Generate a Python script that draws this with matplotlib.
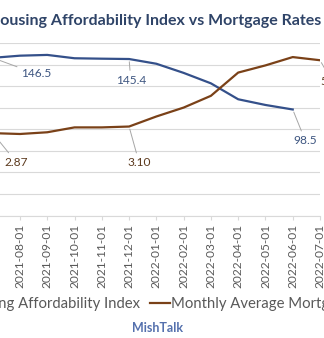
import matplotlib
matplotlib.use("Agg")
import matplotlib.pyplot as plt
import numpy as np

plt.rcParams['font.family'] = ['Lato', 'DejaVu Sans']

# monthly data (chart is a crop, first point sits just off the left edge)
months = ["2021-07-01", "2021-08-01", "2021-09-01", "2021-10-01", "2021-11-01",
          "2021-12-01", "2022-01-01", "2022-02-01", "2022-03-01", "2022-04-01",
          "2022-05-01", "2022-06-01", "2022-07-01"]
hai = [146.5, 148.5, 149.2, 146.1, 145.7, 145.4, 141.0, 132.5, 122.8, 108.0,
       102.7, 98.5, np.nan]
rates = [2.87, 2.84, 2.90, 3.07, 3.07, 3.10, 3.45, 3.76, 4.17, 4.98, 5.23,
         5.52, 5.41]
hai_labeled = [0, 5, 11]
rate_labeled = [0, 5, 12]

title = "Housing Affordability Index vs Mortgage Rates"
names = ["Housing Affordability Index", "Monthly Average Mortgage Rates"]

BLUE = '#34508a'
BROWN = '#7a4118'
GRID = '#d9d9d9'

W, H = 324, 338
fig = plt.figure(figsize=(W / 100, H / 100), dpi=100)

# plot area in pixels: x from -7.3 to 320, y from 43.3 to 215.5
ax = fig.add_axes([-7.3 / W, (H - 215.5) / H, 327.3 / W, 172.2 / H])
ax2 = ax.twinx()

x = np.arange(len(months))
l1, = ax.plot(x, hai, color=BLUE, lw=1.6, solid_joinstyle='round')
l2, = ax2.plot(x, rates, color=BROWN, lw=1.6, solid_joinstyle='round')

ax.set_xlim(0, len(months) - 1)
ax.set_ylim(0, 160)
ax.set_yticks(np.arange(0, 161, 20))
ax2.set_ylim(0, 6)
ax.grid(axis='y', color=GRID, lw=0.8)
ax.set_axisbelow(True)

for a in (ax, ax2):
    for s in ['top', 'left', 'right']:
        a.spines[s].set_visible(False)
    a.tick_params(axis='y', left=False, right=False, labelleft=False, labelright=False)
ax2.spines['bottom'].set_visible(False)
ax.spines['bottom'].set_color(GRID)

ax.set_xticks(x)
ax.set_xticklabels(months, rotation=90, fontsize=8.6, color='#595959')
ax.tick_params(axis='x', length=3, color=GRID, pad=3)

# data labels with leader lines (offsets in pixels)
lead = dict(arrowstyle='-', color='#a6a6a6', lw=0.7, shrinkA=1, shrinkB=2)
hai_off = {0: (43.5, -16), 5: (1.7, -21), 11: (12.5, -31)}
rate_off = {0: (23.5, -29), 5: (10, -36), 12: (12, -21)}
for i in hai_labeled:
    ax.annotate(f"{hai[i]:.1f}", xy=(i, hai[i]), xytext=hai_off[i],
                textcoords='offset pixels', ha='center', va='center',
                fontsize=8.6, color='#3d5580', arrowprops=lead, annotation_clip=False)
for i in rate_labeled:
    ax2.annotate(f"{rates[i]:.2f}", xy=(i, rates[i]), xytext=rate_off[i],
                 textcoords='offset pixels', ha='center', va='center',
                 fontsize=8.6, color='#5c3a1e', arrowprops=lead, annotation_clip=False)

fig.text(321.5 / W, 1 - 25 / H, title, ha='right', va='baseline',
         fontsize=11.5, fontweight='bold', color='#2f4468')

fig.legend([l1, l2], names, loc='center', bbox_to_anchor=(166 / W, 1 - 304 / H),
           ncol=2, frameon=False, fontsize=10.7, handlelength=1.35,
           handletextpad=0.05, columnspacing=0.65, labelcolor='#595959')

fig.text(157.5 / W, 1 - 327.5 / H, "MishTalk", ha='center', va='center',
         fontsize=9, fontweight='bold', color='#5470ad')

fig.savefig("out.png", dpi=100)
